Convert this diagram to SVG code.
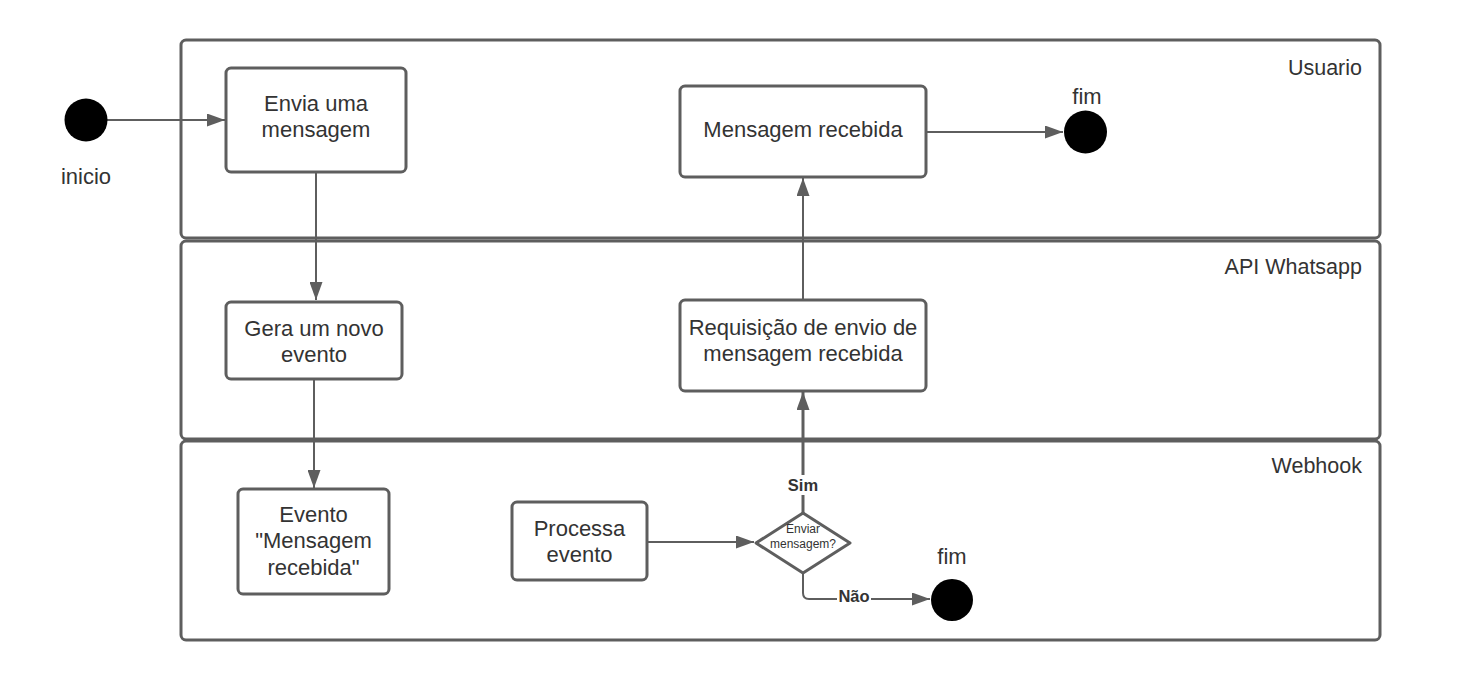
<svg xmlns="http://www.w3.org/2000/svg" width="1469" height="681" viewBox="0 0 1469 681">
<defs>
<marker id="arr" markerUnits="userSpaceOnUse" markerWidth="19" markerHeight="13" refX="18" refY="6.5" orient="auto">
<path d="M0,0 L18,6.5 L0,13 z" fill="#5e5e5e"/>
</marker>
<style>
.lane{fill:#ffffff;stroke:#5e5e5e;stroke-width:3}
.box{fill:#ffffff;stroke:#5e5e5e;stroke-width:3}
.t{font-family:"Liberation Sans",Arial,sans-serif;font-size:22px;fill:#333333;text-anchor:middle}
.lt{font-family:"Liberation Sans",Arial,sans-serif;font-size:21.5px;fill:#333333;text-anchor:end}
.s{font-family:"Liberation Sans",Arial,sans-serif;font-size:12px;fill:#333333;text-anchor:middle}
.b{font-family:"Liberation Sans",Arial,sans-serif;font-size:16.5px;font-weight:bold;fill:#333333;text-anchor:middle}
.c{fill:none;stroke:#5e5e5e;stroke-width:2}
.dot{fill:#000000}
</style>
</defs>
<rect width="1469" height="681" fill="#ffffff"/>
<g id="lane-usuario">
<rect class="lane" x="181" y="40" width="1199" height="198" rx="5"/>
<text class="lt" x="1362" y="75">Usuario</text>
</g>
<g id="lane-api">
<rect class="lane" x="181" y="241" width="1199" height="198" rx="5"/>
<text class="lt" x="1362" y="274">API Whatsapp</text>
</g>
<g id="lane-webhook">
<rect class="lane" x="181" y="441" width="1199" height="199" rx="5"/>
<text class="lt" x="1362" y="473">Webhook</text>
</g>
<g id="connectors">
<line class="c" x1="107" y1="120" x2="225" y2="120" marker-end="url(#arr)"/>
<line class="c" x1="316" y1="172" x2="316" y2="300" marker-end="url(#arr)"/>
<line class="c" x1="314" y1="379" x2="314" y2="488" marker-end="url(#arr)"/>
<line class="c" x1="647" y1="542" x2="754" y2="542" marker-end="url(#arr)"/>
<line class="c" x1="803" y1="513" x2="803" y2="392" marker-end="url(#arr)" style="stroke-width:3"/>
<path class="c" d="M803,573 L803,593 Q803,599 809,599 L930,599" marker-end="url(#arr)"/>
<line class="c" x1="803" y1="299" x2="803" y2="178" marker-end="url(#arr)"/>
<line class="c" x1="926" y1="132" x2="1063" y2="132" marker-end="url(#arr)"/>
<rect x="785" y="475" width="36" height="20" fill="#ffffff"/>
<text class="b" x="803" y="491">Sim</text>
<rect x="837" y="591" width="34" height="17" fill="#ffffff"/>
<text class="b" x="854" y="602">Não</text>
</g>
<g id="inicio">
<circle class="dot" cx="86" cy="120" r="21.5"/>
<text class="t" x="86" y="184">inicio</text>
</g>
<g id="envia">
<rect class="box" x="226" y="68" width="180" height="104" rx="5"/>
<text class="t" x="316" y="111">Envia uma</text>
<text class="t" x="316" y="137">mensagem</text>
</g>
<g id="gera">
<rect class="box" x="226" y="302" width="176" height="77" rx="5"/>
<text class="t" x="314" y="336">Gera um novo</text>
<text class="t" x="314" y="362">evento</text>
</g>
<g id="evento">
<rect class="box" x="238" y="489" width="151" height="105" rx="5"/>
<text class="t" x="313.5" y="522">Evento</text>
<text class="t" x="313.5" y="548">"Mensagem</text>
<text class="t" x="313.5" y="575">recebida"</text>
</g>
<g id="processa">
<rect class="box" x="512" y="502" width="135" height="78" rx="5"/>
<text class="t" x="579.5" y="536">Processa</text>
<text class="t" x="579.5" y="562">evento</text>
</g>
<g id="decisao">
<path class="box" d="M803,513 L850,543 L803,573 L756,543 Z" stroke-linejoin="round"/>
<text class="s" x="803" y="533">Enviar</text>
<text class="s" x="803" y="548">mensagem?</text>
</g>
<g id="requisicao">
<rect class="box" x="680" y="300" width="246" height="91" rx="5"/>
<text class="t" x="803" y="335">Requisição de envio de</text>
<text class="t" x="803" y="361">mensagem recebida</text>
</g>
<g id="mensagem-recebida">
<rect class="box" x="680" y="86" width="246" height="91" rx="5"/>
<text class="t" x="803" y="137">Mensagem recebida</text>
</g>
<g id="fim-usuario">
<circle class="dot" cx="1085.5" cy="132" r="21.5"/>
<text class="t" x="1087" y="104">fim</text>
</g>
<g id="fim-webhook">
<circle class="dot" cx="952" cy="600" r="21"/>
<text class="t" x="952" y="564">fim</text>
</g>
</svg>
